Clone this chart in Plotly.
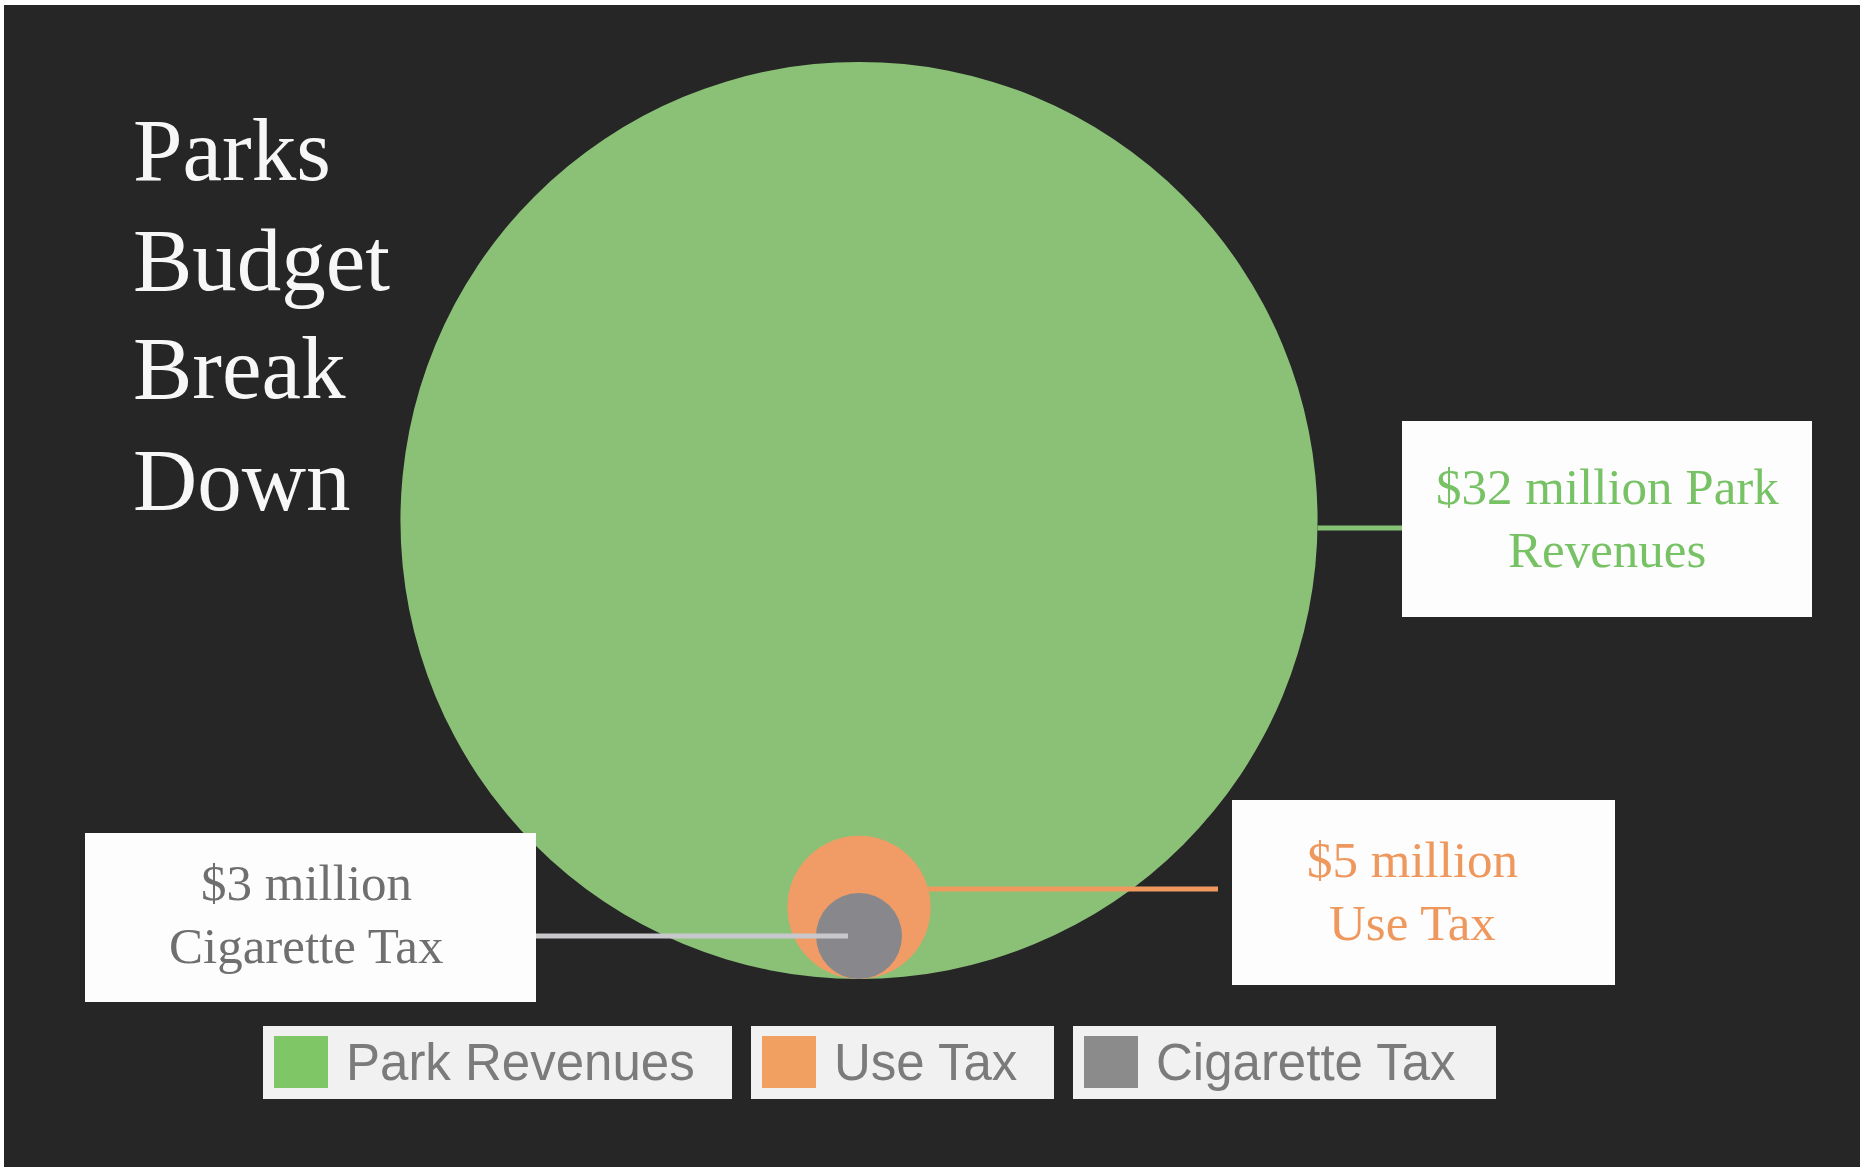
import math
import plotly.graph_objects as go

# ---------------- data ----------------
categories = ["Park Revenues", "Use Tax", "Cigarette Tax"]
values_musd = [32, 5, 3]          # $ million, circle radius proportional to value
label_lines = [
    ["$32 million Park", "Revenues"],
    ["$5 million", "Use Tax"],
    ["$3 million", "Cigarette Tax"],
]
title_lines = ["Parks", "Budget", "Break", "Down"]

# ---------------- styles ----------------
circle_colors = ["#8bc176", "#f19c66", "#88888c"]
label_colors = ["#78c266", "#ef985d", "#6f6f6f"]
swatch_colors = ["#7fc766", "#f2a062", "#8b8b8b"]
connector_colors = ["#86c274", "#f0995e", "#c8c8cc"]
BG = "#262627"
SERIF = "Liberation Serif, DejaVu Serif, serif"
SANS = "Liberation Sans, Arial, sans-serif"

# ---------------- geometry (pixels) ----------------
W, H = 1871, 1171
K = 14.33            # pixels per $1M of radius
CX, BY = 859, 979    # circle centre-x and common bottom (pixels)
x_range = [-CX / K, (W - CX) / K]
y_range = [-(H - BY) / K, BY / K]


def dx(px):
    return (px - CX) / K


def dy(py):
    return (BY - py) / K


def pxp(px):
    return px / W


def pyp(py):
    return 1 - py / H


label_boxes = [(1402, 421, 1812, 617), (1232, 800, 1615, 985), (85, 833, 536, 1002)]
label_baselines = [(504, 567), (877, 940), (900, 963)]
label_cx = [1607, 1412, 306]
LABEL_SIZE = 51

# connector: (y pixel, x pixel of far end, start on circle edge?)
connectors = [(528, 1402, True), (889, 1218, True), (936, 536, False)]
gray_inner_px = 848

legend_boxes = [(263, 1026, 732, 1099), (751, 1026, 1054, 1099), (1073, 1026, 1496, 1099)]
LEGEND_SIZE = 51

title_baselines = [180, 290, 398, 510]
TITLE_X = 131
TITLE_SIZE = 89

fig = go.Figure()

# invisible trace carrying the data (circle centres)
fig.add_trace(go.Scatter(
    x=[0 for _ in values_musd], y=values_musd, mode="markers",
    marker=dict(size=1, opacity=0), text=categories,
    hoverinfo="text", showlegend=False,
))

shapes = []
# background
shapes.append(dict(type="rect", xref="paper", yref="paper",
                   x0=pxp(4), x1=pxp(1860), y0=pyp(1167), y1=pyp(5),
                   fillcolor=BG, line=dict(width=0), layer="below"))

# circles (radius = value, all touching the baseline y=0)
for v, c in zip(values_musd, circle_colors):
    shapes.append(dict(type="circle", xref="x", yref="y",
                       x0=-v, x1=v, y0=0, y1=2 * v,
                       fillcolor=c, line=dict(width=0), layer="above"))

# connectors
for i, (ypx, far_px, on_edge) in enumerate(connectors):
    r = values_musd[i]
    yd = dy(ypx)
    if on_edge:
        x_start = math.sqrt(max(r * r - (yd - r) ** 2, 0))
        x_end = dx(far_px)
    else:
        x_start = dx(far_px)
        x_end = dx(gray_inner_px)
    shapes.append(dict(type="line", xref="x", yref="y",
                       x0=x_start, x1=x_end, y0=yd, y1=yd,
                       line=dict(color=connector_colors[i], width=5)))

# label boxes
for (x0, y0, x1, y1) in label_boxes:
    shapes.append(dict(type="rect", xref="paper", yref="paper",
                       x0=pxp(x0), x1=pxp(x1), y0=pyp(y1), y1=pyp(y0),
                       fillcolor="#fdfdfd", line=dict(width=0)))

# legend boxes + swatches
for (x0, y0, x1, y1), sc in zip(legend_boxes, swatch_colors):
    shapes.append(dict(type="rect", xref="paper", yref="paper",
                       x0=pxp(x0), x1=pxp(x1), y0=pyp(y1), y1=pyp(y0),
                       fillcolor="#f1f1f1", line=dict(width=0)))
    shapes.append(dict(type="rect", xref="paper", yref="paper",
                       x0=pxp(x0 + 11), x1=pxp(x0 + 65), y0=pyp(1088), y1=pyp(1036),
                       fillcolor=sc, line=dict(width=0)))

annotations = []
# title
for line, b in zip(title_lines, title_baselines):
    annotations.append(dict(text=line, xref="paper", yref="paper",
                            x=pxp(TITLE_X), y=pyp(b - 0.34 * TITLE_SIZE),
                            xanchor="left", yanchor="middle", showarrow=False,
                            font=dict(family=SERIF, size=TITLE_SIZE, color="#f7f7f7")))

# value labels
for lines, bases, cx, col in zip(label_lines, label_baselines, label_cx, label_colors):
    for line, b in zip(lines, bases):
        annotations.append(dict(text=line, xref="paper", yref="paper",
                                x=pxp(cx), y=pyp(b - 0.34 * LABEL_SIZE),
                                xanchor="center", yanchor="middle", showarrow=False,
                                font=dict(family=SERIF, size=LABEL_SIZE, color=col)))

# legend texts
for name, (x0, y0, x1, y1) in zip(categories, legend_boxes):
    annotations.append(dict(text=name, xref="paper", yref="paper",
                            x=pxp(x0 + 81), y=pyp((y0 + y1) / 2),
                            xanchor="left", yanchor="middle", showarrow=False,
                            font=dict(family=SANS, size=LEGEND_SIZE, color="#7b7b7b")))

fig.update_layout(
    width=W, height=H,
    margin=dict(l=0, r=0, t=0, b=0),
    paper_bgcolor="#ffffff", plot_bgcolor="rgba(0,0,0,0)",
    xaxis=dict(range=x_range, visible=False, fixedrange=True),
    yaxis=dict(range=y_range, visible=False, fixedrange=True),
    shapes=shapes, annotations=annotations,
    showlegend=False,
)

fig.write_html("out.html", config={"displayModeBar": False},
               post_script="document.body.style.margin='0';document.body.style.overflow='hidden';")
